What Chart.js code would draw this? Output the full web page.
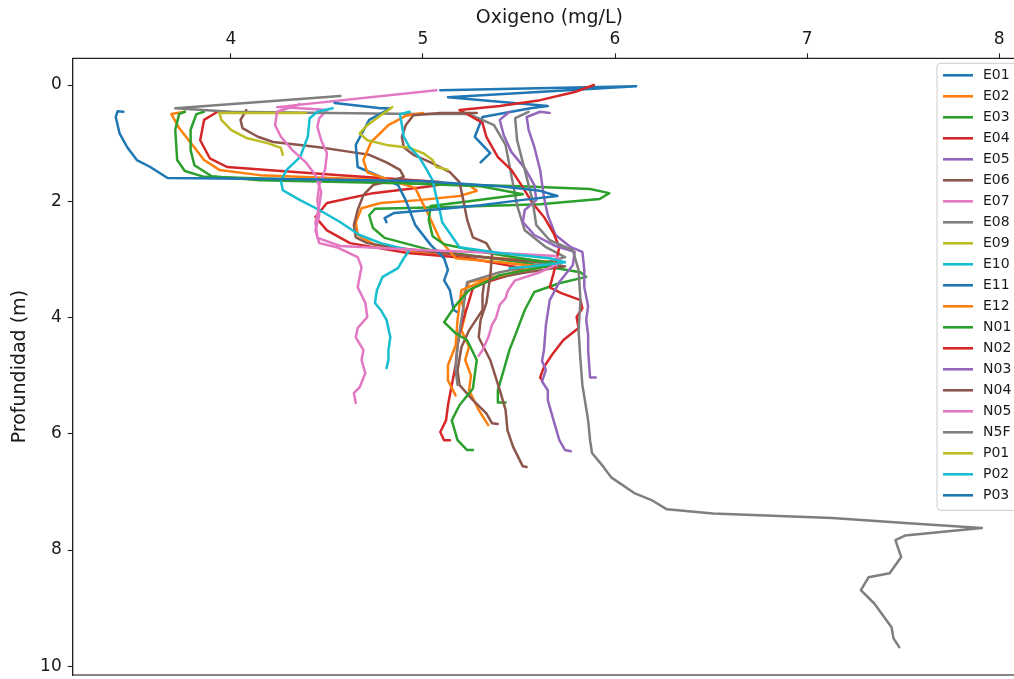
<!DOCTYPE html>
<html>
<head>
<meta charset="utf-8">
<script src="https://cdn.jsdelivr.net/npm/chart.js@4.4.1/dist/chart.umd.min.js"></script>
<style>
  html, body { margin: 0; padding: 0; background: #fff; overflow: hidden; }
  #wrap { width: 1014px; height: 679px; overflow: hidden; position: relative; }
  canvas { display: block; }
</style>
</head>
<body>
<div id="wrap"><canvas id="perfil" width="1040" height="679" style="width:1040px;height:679px"></canvas></div>
<script>
// Dissolved oxygen profiles: each station is a list of [oxygen mg/L, depth m]
const stations = ['E01','E02','E03','E04','E05','E06','E07','E08','E09','E10','E11','E12',
                  'N01','N02','N03','N04','N05','N5F','P01','P02','P03'];

const E01 = [[5.09,0.09],[6.11,0.02],[5.13,0.21],[5.65,0.36],[5.56,0.40],[5.31,0.55],[5.27,0.89],[5.35,1.17],[5.30,1.33]];
const E02 = [[3.76,0.46],[3.69,0.50],[3.73,0.74],[3.80,1.03],[3.86,1.29],[3.94,1.46],[4.15,1.55],[4.52,1.60],[4.98,1.65],[5.24,1.72],[5.28,1.82],[5.19,1.91],[4.98,1.98],[4.78,2.03],[4.68,2.12],[4.65,2.36],[4.66,2.58],[4.75,2.75],[4.98,2.87],[5.40,2.98],[5.71,3.05],[5.51,3.22],[5.24,3.39],[5.20,3.70],[5.22,3.95],[5.20,4.22],[5.24,4.50],[5.22,4.73],[5.25,5.00],[5.24,5.25],[5.29,5.59],[5.34,5.85]];
const E03 = [[3.86,0.46],[3.82,0.50],[3.79,0.77],[3.79,1.12],[3.81,1.38],[3.90,1.57],[4.15,1.64],[4.88,1.69],[5.51,1.74],[5.87,1.79],[5.97,1.86],[5.92,1.96],[5.61,2.05],[5.14,2.10],[4.75,2.13],[4.72,2.24],[4.74,2.46],[4.80,2.63],[5.04,2.84],[5.51,3.05],[5.82,3.22],[5.85,3.30],[5.71,3.41],[5.58,3.56],[5.53,3.87],[5.49,4.22],[5.45,4.56],[5.42,4.91],[5.39,5.25],[5.39,5.46],[5.43,5.46]];
const E04 = [[3.93,0.46],[3.86,0.60],[3.84,0.95],[3.89,1.26],[3.98,1.41],[4.26,1.48],[4.57,1.55],[4.88,1.62],[5.09,1.67],[5.11,1.70],[5.04,1.74],[4.74,1.86],[4.50,2.03],[4.44,2.27],[4.50,2.50],[4.62,2.72],[4.92,2.89],[5.24,2.98],[5.52,3.15],[5.43,3.29],[5.33,3.39],[5.26,3.49],[5.23,3.82],[5.20,4.13],[5.18,4.48],[5.17,4.82],[5.15,5.16],[5.13,5.51],[5.12,5.77],[5.09,5.97],[5.11,6.11],[5.14,6.11]];
const E05 = [[5.66,0.48],[5.61,0.46],[5.54,0.55],[5.55,0.77],[5.58,1.07],[5.61,1.46],[5.63,1.93],[5.65,2.24],[5.69,2.58],[5.77,2.79],[5.83,2.87],[5.84,3.18],[5.84,3.48],[5.86,3.80],[5.85,4.04],[5.86,4.30],[5.86,4.56],[5.87,5.03],[5.90,5.03]];
const E06 = [[4.08,0.43],[4.05,0.60],[4.06,0.74],[4.14,0.89],[4.22,0.98],[4.36,1.03],[4.46,1.07],[4.62,1.15],[4.72,1.20],[4.81,1.33],[4.88,1.46],[4.90,1.58],[4.84,1.64],[4.74,1.72],[4.69,1.89],[4.66,2.15],[4.64,2.41],[4.65,2.62],[4.71,2.72],[4.88,2.81],[5.24,2.94],[5.61,3.05],[5.74,3.12],[5.51,3.24],[5.32,3.36],[5.31,3.61],[5.31,3.87],[5.24,4.22],[5.20,4.51],[5.18,4.91],[5.19,5.16],[5.26,5.42],[5.33,5.65],[5.36,5.82],[5.39,5.83]];
const E07 = [[5.07,0.09],[4.24,0.38],[4.36,0.40],[4.50,0.43],[4.46,0.57],[4.45,0.72],[4.47,0.95],[4.50,1.17],[4.49,1.46],[4.46,1.72],[4.45,1.98],[4.46,2.24],[4.44,2.50],[4.46,2.72],[4.55,2.79],[4.66,2.96],[4.68,3.13],[4.66,3.48],[4.70,3.75],[4.71,3.99],[4.66,4.18],[4.65,4.34],[4.69,4.56],[4.68,4.73],[4.70,4.96],[4.67,5.20],[4.64,5.30],[4.65,5.47]];
const E08 = [[4.57,0.19],[3.71,0.40],[4.00,0.46],[4.52,0.48],[4.98,0.50],[5.24,0.50],[5.37,0.69],[5.43,1.03],[5.46,1.55],[5.49,2.07],[5.53,2.50],[5.64,2.79],[5.74,2.96],[5.56,3.12],[5.40,3.22],[5.23,3.39],[5.22,3.61],[5.20,4.04],[5.18,4.48],[5.17,4.91],[5.18,5.16]];
const E09 = [[4.39,0.48],[3.94,0.48],[3.95,0.60],[4.00,0.77],[4.08,0.91],[4.19,1.00],[4.26,1.08],[4.27,1.20]];
const E10 = [[4.53,0.40],[4.45,0.46],[4.41,0.57],[4.40,0.89],[4.36,1.24],[4.29,1.46],[4.26,1.64],[4.27,1.81],[4.36,1.98],[4.46,2.15],[4.57,2.36],[4.67,2.58],[4.78,2.72],[4.93,2.84],[4.90,2.98],[4.87,3.15],[4.79,3.30],[4.76,3.53],[4.75,3.75],[4.78,3.87],[4.81,4.04],[4.83,4.34],[4.82,4.56],[4.82,4.73],[4.81,4.87]];
const E11 = [[4.54,0.31],[4.78,0.40],[4.83,0.40],[4.72,0.60],[4.65,1.03],[4.66,1.41],[4.78,1.58],[4.87,1.72],[4.91,1.98],[4.96,2.41],[5.04,2.75],[5.11,2.98],[5.13,3.18],[5.11,3.36],[5.14,3.53],[5.16,3.87],[5.18,3.91]];
const E12 = [[5.00,0.48],[4.91,0.53],[4.82,0.69],[4.73,0.98],[4.69,1.29],[4.71,1.50],[4.83,1.64],[4.96,1.77],[4.99,1.98],[5.03,2.24],[5.09,2.67],[5.17,2.98],[5.40,3.05],[5.61,3.12],[5.35,3.32],[5.20,3.53],[5.18,4.04],[5.17,4.48],[5.13,4.82],[5.13,5.08],[5.17,5.34]];
const N01 = [[3.76,0.46],[3.73,0.50],[3.71,0.77],[3.72,1.29],[3.76,1.48],[3.86,1.58],[4.62,1.65],[5.30,1.74],[5.52,1.88],[5.24,2.00],[5.04,2.08],[5.03,2.32],[5.05,2.60],[5.11,2.74],[5.30,2.87],[5.51,2.98],[5.71,3.08],[5.40,3.27],[5.24,3.53],[5.17,3.79],[5.11,4.08],[5.17,4.27],[5.23,4.39],[5.28,4.73],[5.26,5.22],[5.19,5.51],[5.15,5.77],[5.18,6.11],[5.23,6.28],[5.26,6.28]];
const N02 = [[5.89,0.00],[5.79,0.12],[5.61,0.26],[5.40,0.36],[5.19,0.43],[5.24,0.52],[5.31,0.65],[5.33,0.89],[5.39,1.24],[5.46,1.46],[5.52,1.76],[5.57,2.03],[5.63,2.27],[5.68,2.55],[5.71,2.79],[5.68,3.24],[5.66,3.48],[5.72,3.58],[5.82,3.70],[5.83,3.84],[5.80,3.99],[5.81,4.18],[5.73,4.39],[5.67,4.65],[5.63,4.85],[5.61,5.03],[5.62,5.08]];
const N03 = [[5.45,0.46],[5.40,0.60],[5.42,0.86],[5.46,1.15],[5.53,1.43],[5.58,1.72],[5.59,1.98],[5.53,2.15],[5.52,2.36],[5.58,2.58],[5.69,2.77],[5.79,2.87],[5.78,3.10],[5.71,3.39],[5.66,3.70],[5.64,4.13],[5.63,4.56],[5.62,4.75],[5.64,4.90],[5.62,5.10],[5.65,5.25],[5.65,5.42],[5.68,5.77],[5.71,6.11],[5.74,6.28],[5.77,6.30]];
const N04 = [[5.28,0.48],[5.09,0.48],[4.95,0.52],[4.91,0.69],[4.89,0.89],[4.90,1.07],[4.95,1.20],[5.04,1.33],[5.14,1.50],[5.19,1.67],[5.21,1.98],[5.23,2.32],[5.26,2.62],[5.33,2.72],[5.36,2.89],[5.35,3.30],[5.33,3.75],[5.30,4.04],[5.29,4.34],[5.35,4.73],[5.40,5.25],[5.43,5.59],[5.44,5.94],[5.47,6.23],[5.52,6.56],[5.54,6.57]];
const N05 = [[4.36,0.33],[4.24,0.46],[4.23,0.69],[4.26,0.89],[4.32,1.12],[4.39,1.33],[4.44,1.55],[4.47,1.84],[4.46,2.07],[4.44,2.36],[4.45,2.63],[4.57,2.77],[4.98,2.84],[5.40,2.89],[5.69,2.94],[5.72,3.05],[5.61,3.22],[5.48,3.36],[5.46,3.45],[5.44,3.55],[5.43,3.67],[5.40,3.78],[5.38,4.01],[5.36,4.12],[5.34,4.34],[5.31,4.56],[5.29,4.66]];
const N5F = [[5.55,0.46],[5.48,0.57],[5.49,0.95],[5.53,1.46],[5.57,1.98],[5.59,2.41],[5.66,2.67],[5.78,2.84],[5.81,3.18],[5.82,3.70],[5.81,4.22],[5.82,4.73],[5.83,5.16],[5.86,5.77],[5.87,6.11],[5.88,6.33],[5.94,6.57],[5.98,6.75],[6.10,7.02],[6.19,7.14],[6.27,7.30],[6.51,7.37],[7.13,7.45],[7.53,7.54],[7.91,7.62],[7.51,7.75],[7.46,7.83],[7.49,8.12],[7.43,8.40],[7.32,8.47],[7.28,8.69],[7.35,8.92],[7.44,9.33],[7.45,9.52],[7.48,9.67]];
const P01 = [[4.84,0.38],[4.78,0.52],[4.71,0.69],[4.67,0.83],[4.71,0.95],[4.81,1.03],[4.93,1.08],[5.00,1.17],[5.05,1.29],[5.07,1.41],[5.13,1.46]];
const P02 = [[4.93,0.46],[4.88,0.50],[4.89,0.69],[4.90,0.89],[4.93,1.07],[4.98,1.24],[5.02,1.46],[5.05,1.64],[5.07,1.93],[5.09,2.20],[5.10,2.36],[5.14,2.55],[5.19,2.79],[5.40,2.89],[5.66,2.98],[5.74,3.05],[5.56,3.12],[5.45,3.15]];
const P03 = [[3.44,0.46],[3.41,0.45],[3.40,0.55],[3.42,0.83],[3.46,1.07],[3.51,1.29],[3.58,1.41],[3.67,1.60],[4.36,1.62],[4.98,1.65],[5.40,1.74],[5.61,1.82],[5.70,1.91],[5.51,1.98],[5.30,2.07],[5.04,2.15],[4.85,2.20],[4.80,2.29],[4.81,2.36]];

const profiles = {E01,E02,E03,E04,E05,E06,E07,E08,E09,E10,E11,E12,N01,N02,N03,N04,N05,N5F,P01,P02,P03};

// Axis ticks and limits
const oxygenTicks = [4, 5, 6, 7, 8];
const depthTicks = [0, 2, 4, 6, 8, 10];
const oxygenLimits = [3.176, 8.14];
const depthLimits = [-0.46, 10.15];

const palette = ['#1f77b4','#ff7f0e','#2ca02c','#d62728','#9467bd',
                 '#8c564b','#e377c2','#7f7f7f','#bcbd22','#17becf'];

Chart.defaults.font.family = "'DejaVu Sans', sans-serif";
Chart.defaults.color = '#1a1a1a';

// Closes the plot box (bottom and right edges)
const framePlugin = {
  id: 'frame',
  afterDatasetsDraw(chart) {
    const { ctx, chartArea: a } = chart;
    ctx.save();
    ctx.strokeStyle = '#222';
    ctx.lineWidth = 1.1;
    ctx.strokeRect(a.left, a.top, a.right - a.left, a.bottom - a.top);
    ctx.restore();
  }
};

// Legend drawn inside the upper-right corner of the plot
const insideLegend = {
  id: 'insideLegend',
  afterDraw(chart) {
    const { ctx, chartArea: a } = chart;
    const sets = chart.data.datasets;
    const rowH = 21;
    const boxX = a.right - 89, boxY = a.top + 5, boxW = 84, boxH = rowH * sets.length + 6;
    const r = 4;
    ctx.save();
    ctx.beginPath();
    ctx.moveTo(boxX + r, boxY);
    ctx.lineTo(boxX + boxW - r, boxY);
    ctx.arcTo(boxX + boxW, boxY, boxX + boxW, boxY + r, r);
    ctx.lineTo(boxX + boxW, boxY + boxH - r);
    ctx.arcTo(boxX + boxW, boxY + boxH, boxX + boxW - r, boxY + boxH, r);
    ctx.lineTo(boxX + r, boxY + boxH);
    ctx.arcTo(boxX, boxY + boxH, boxX, boxY + boxH - r, r);
    ctx.lineTo(boxX, boxY + r);
    ctx.arcTo(boxX, boxY, boxX + r, boxY, r);
    ctx.closePath();
    ctx.fillStyle = 'rgba(255,255,255,0.8)';
    ctx.fill();
    ctx.strokeStyle = '#cccccc';
    ctx.lineWidth = 1;
    ctx.stroke();
    ctx.font = "14px 'DejaVu Sans', sans-serif";
    ctx.textBaseline = 'middle';
    ctx.textAlign = 'left';
    sets.forEach((ds, i) => {
      const y = boxY + 12 + i * rowH;
      ctx.strokeStyle = ds.borderColor;
      ctx.lineWidth = 2.6;
      ctx.beginPath();
      ctx.moveTo(boxX + 6, y);
      ctx.lineTo(boxX + 36, y);
      ctx.stroke();
      ctx.fillStyle = '#1a1a1a';
      ctx.fillText(ds.label, boxX + 46, y + 0.5);
    });
    ctx.restore();
  }
};

const datasets = stations.map((name, i) => ({
  label: name,
  data: profiles[name].map(([ox, depth]) => ({ x: ox, y: depth })),
  borderColor: palette[i % palette.length],
  backgroundColor: palette[i % palette.length],
  borderWidth: 2.5,
  borderCapStyle: 'round',
  borderJoinStyle: 'round',
  showLine: true,
  fill: false,
  tension: 0,
  pointRadius: 0,
  pointHoverRadius: 0,
  order: stations.length - i
}));

new Chart(document.getElementById('perfil'), {
  type: 'scatter',
  data: { datasets },
  options: {
    responsive: false,
    animation: false,
    devicePixelRatio: 1,
    events: [],
    layout: { padding: { left: 0, top: 0, right: 14, bottom: 4 } },
    plugins: { legend: { display: false }, tooltip: { enabled: false } },
    scales: {
      x: {
        type: 'linear',
        position: 'top',
        min: oxygenLimits[0],
        max: oxygenLimits[1],
        afterBuildTicks: s => { s.ticks = oxygenTicks.map(v => ({ value: v })); },
        afterFit: s => { s.height = 58.3; s.paddingLeft = 0; s.paddingRight = 0; },
        ticks: { font: { size: 17 }, padding: 4, color: '#1a1a1a', maxRotation: 0 },
        grid: { drawOnChartArea: false, drawTicks: true, tickLength: 5, color: '#222', tickWidth: 1.1 },
        border: { display: true, color: '#222', width: 1.1 },
        title: { display: true, text: 'Oxigeno (mg/L)', font: { size: 19 }, color: '#1a1a1a', padding: { top: 6.6, bottom: 0 } }
      },
      y: {
        type: 'linear',
        position: 'left',
        reverse: true,
        min: depthLimits[0],
        max: depthLimits[1],
        afterBuildTicks: s => { s.ticks = depthTicks.map(v => ({ value: v })); },
        afterFit: s => { s.width = 72.7; s.paddingTop = 0; s.paddingBottom = 0; },
        ticks: { font: { size: 17 }, padding: 6, color: '#1a1a1a' },
        grid: { drawOnChartArea: false, drawTicks: true, tickLength: 5, color: '#222', tickWidth: 1.1 },
        border: { display: true, color: '#222', width: 1.1 },
        title: { display: true, text: 'Profundidad (m)', font: { size: 19 }, color: '#1a1a1a', padding: { top: 8.6, bottom: 0 } }
      }
    }
  },
  plugins: [framePlugin, insideLegend]
});
</script>
</body>
</html>
